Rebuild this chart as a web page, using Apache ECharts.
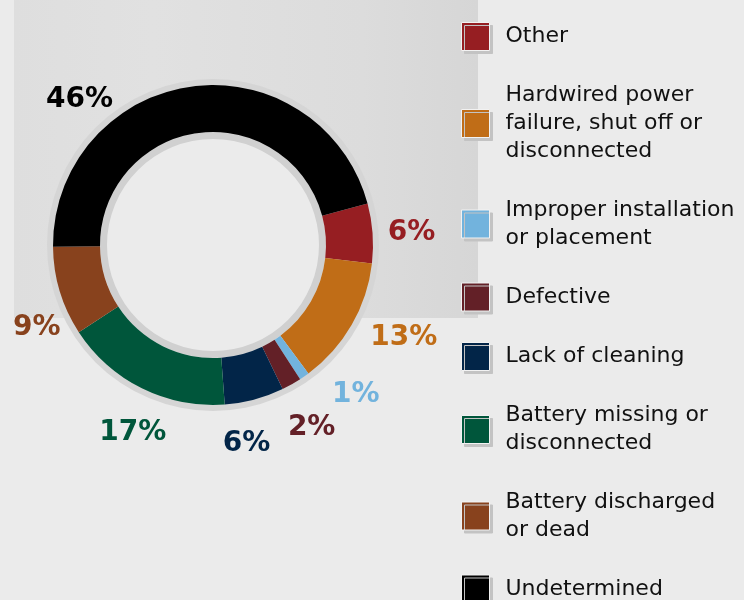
<!DOCTYPE html>
<html>
<head>
<meta charset="utf-8">
<style>
  html, body { margin: 0; padding: 0; background: #ebebeb; }
  #chart { width: 744px; height: 600px; }
</style>
<script src="https://cdn.jsdelivr.net/npm/echarts@6/dist/echarts.min.js"></script>
</head>
<body>
<div id="chart"></div>
<script>
// Causes of smoke alarm failure, share of cases (%)
const categories = [
  'Other',
  'Hardwired power\nfailure, shut off or\ndisconnected',
  'Improper installation\nor placement',
  'Defective',
  'Lack of cleaning',
  'Battery missing or\ndisconnected',
  'Battery discharged\nor dead',
  'Undetermined'
];
const shares = [6, 13, 1, 2, 6, 17, 9, 46];

// Slice colours, in the same order as the categories
const palette = ['#961e22', '#c06d17', '#72b3dd', '#632027', '#022548', '#00563b', '#88421d', '#000000'];

// Small hand tweaks to the percentage labels' placement around the ring
const labelNudge = [[-4, 3], [15, -9], [27, -17], [-1, 6], [-19, 3], [10, 6], [18, 24], [-106, 56]];

const CENTER = [213, 245];
const LABEL_FONT = '"DejaVu Sans", sans-serif';

const chart = echarts.init(document.getElementById('chart'), null, { renderer: 'canvas' });

const sliceData = categories.map((name, i) => ({
  name: name,
  value: shares[i],
  itemStyle: { color: palette[i] }
}));

const labelData = categories.map((name, i) => ({
  name: name,
  value: shares[i],
  label: { color: palette[i] }
}));

const ring = (name, radius, color) => ({
  type: 'pie',
  name: name,
  silent: true,
  center: CENTER,
  radius: radius,
  label: { show: false },
  labelLine: { show: false },
  emphasis: { disabled: true },
  data: [{ name: name, value: 1, itemStyle: { color: color } }]
});

chart.setOption({
  animation: false,
  backgroundColor: '#ebebeb',
  graphic: [
    {
      type: 'rect',
      silent: true,
      z: -10,
      shape: { x: 14, y: 0, width: 464, height: 318 },
      style: {
        fill: new echarts.graphic.LinearGradient(0, 0, 1, 0, [
          { offset: 0, color: '#dedede' },
          { offset: 0.3, color: '#e1e1e1' },
          { offset: 0.75, color: '#dcdcdc' },
          { offset: 1, color: '#d6d6d6' }
        ])
      }
    }
  ],
  legend: {
    orient: 'vertical',
    left: 461,
    top: 22,
    height: 760,
    padding: 0,
    itemGap: 30.5,
    itemWidth: 28,
    itemHeight: 28,
    icon: 'rect',
    selectedMode: false,
    data: categories,
    itemStyle: {
      borderColor: '#f2f2f2',
      borderWidth: 1,
      shadowColor: '#c3c3c3',
      shadowBlur: 0,
      shadowOffsetX: 3,
      shadowOffsetY: 3
    },
    textStyle: {
      fontFamily: LABEL_FONT,
      fontSize: 22,
      lineHeight: 28,
      color: '#111111',
      padding: [0, 0, 0, 11]
    }
  },
  series: [
    ring('halo', [157, 166], '#d5d5d5'),
    ring('hole', [0, 107], '#ebebeb'),
    ring('rim', [106, 113], '#d0d0d0'),
    {
      type: 'pie',
      name: 'slices',
      center: CENTER,
      radius: [113, 160],
      startAngle: 15,
      clockwise: true,
      silent: true,
      avoidLabelOverlap: false,
      label: { show: false },
      labelLine: { show: false },
      emphasis: { disabled: true },
      itemStyle: { borderWidth: 0 },
      data: sliceData
    },
    {
      type: 'pie',
      name: 'labels',
      center: CENTER,
      radius: [195, 205],
      startAngle: 15,
      clockwise: true,
      silent: true,
      avoidLabelOverlap: false,
      itemStyle: { color: 'rgba(0,0,0,0)' },
      emphasis: { disabled: true },
      labelLine: { show: false },
      label: {
        show: true,
        position: 'inside',
        formatter: '{c}%',
        fontFamily: LABEL_FONT,
        fontWeight: 'bold',
        fontSize: 28
      },
      labelLayout: function (p) {
        const n = labelNudge[p.dataIndex] || [0, 0];
        return { dx: n[0], dy: n[1] };
      },
      data: labelData
    }
  ]
});
</script>
</body>
</html>
